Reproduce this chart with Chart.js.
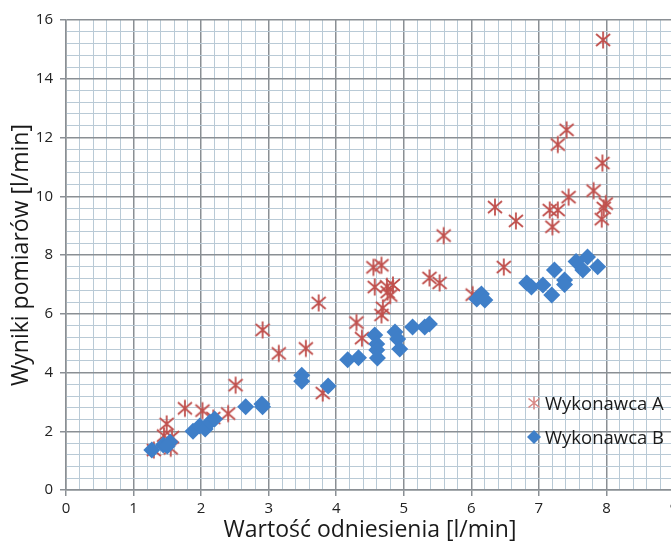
<!DOCTYPE html>
<html>
<head>
<meta charset="utf-8">
<script src="https://cdn.jsdelivr.net/npm/chart.js@4/dist/chart.umd.min.js"></script>
<style>
  html, body { margin: 0; padding: 0; background: #fff; }
  #wrap { position: relative; width: 671px; height: 544px; overflow: hidden; }
  #chart { position: absolute; left: 0; top: 0; }
  #legend { position: absolute; left: 526px; top: 390px; font-family: "Open Sans", sans-serif; font-size: 18.5px; color: #1a1a1a; }
  #legend div { height: 34px; line-height: 26px; white-space: nowrap; }
  #legend svg { vertical-align: middle; margin-right: 3px; position: relative; top: -2px; }
</style>
</head>
<body>
<div id="wrap">
  <canvas id="chart" width="690" height="544"></canvas>
  <div id="legend">
    <div><svg width="16" height="16" viewBox="-8 -8 16 16"><path d="M0,-6.5V6.5M-5.5,-4.5L5.5,4.5M5.5,-4.5L-5.5,4.5" stroke="#d88a87" stroke-width="1.6" fill="none"/></svg>Wykonawca A</div>
    <div><svg width="16" height="16" viewBox="-8 -8 16 16"><path d="M0,-7L7,0L0,7L-7,0Z" fill="#3f7fc8"/></svg>Wykonawca B</div>
  </div>
</div>
<script>
// Wykonawca A (red asterisks)
const aX = [1.30, 1.49, 1.45, 1.57, 1.55, 1.76, 2.02, 2.18, 2.40, 2.51, 2.91, 3.15, 3.55, 3.74, 3.80,
            4.30, 4.38, 4.55, 4.67, 4.57, 4.75, 4.84, 4.76, 4.80, 4.69, 4.67, 5.38, 5.53, 5.59, 6.48,
            6.35, 6.66, 7.16, 7.28, 7.20, 7.44, 7.28, 7.41, 7.95, 7.94, 7.81, 7.99, 7.96, 7.93, 6.02];
const aY = [1.36, 2.25, 1.85, 1.80, 1.42, 2.78, 2.70, 2.45, 2.60, 3.57, 5.45, 4.65, 4.82, 6.37, 3.30,
            5.70, 5.17, 7.58, 7.65, 6.91, 6.93, 6.98, 6.74, 6.62, 6.20, 5.96, 7.22, 7.05, 8.66, 7.59,
            9.63, 9.16, 9.53, 9.53, 8.96, 9.97, 11.76, 12.26, 15.32, 11.13, 10.19, 9.75, 9.60, 9.22, 6.65];

// Wykonawca B (blue diamonds)
const bX = [1.27, 1.44, 1.54, 1.50, 1.88, 1.98, 2.06, 2.13, 2.20, 2.66, 2.90, 2.91, 3.49, 3.49, 3.88,
            4.17, 4.33, 4.57, 4.60, 4.60, 4.61, 4.87, 4.91, 4.94, 5.13, 5.31, 5.38, 6.08, 6.15, 6.20,
            6.82, 6.89, 7.06, 7.19, 7.23, 7.38, 7.38, 7.55, 7.72, 7.65, 7.87];
const bY = [1.36, 1.53, 1.63, 1.50, 2.00, 2.18, 2.08, 2.31, 2.42, 2.83, 2.93, 2.83, 3.91, 3.70, 3.54,
            4.43, 4.50, 5.28, 4.97, 4.77, 4.49, 5.38, 5.14, 4.80, 5.55, 5.55, 5.65, 6.50, 6.67, 6.47,
            7.05, 6.91, 6.98, 6.64, 7.49, 7.15, 7.00, 7.78, 7.93, 7.49, 7.60];

const xTitle = 'Wartość odniesienia [l/min]';
const yTitle = 'Wyniki pomiarów [l/min]';

const redColor = '#c0504d';
const blueColor = '#3f7fc8';

// asterisk marker like the spreadsheet "star" (vertical line + X)
function makeStar() {
    const c = document.createElement('canvas');
    c.width = 18; c.height = 20;
    const g = c.getContext('2d');
    g.strokeStyle = redColor;
    g.lineWidth = 1.8;
    g.translate(9, 10);
    g.beginPath();
    g.moveTo(0, -8.5); g.lineTo(0, 8.5);
    g.moveTo(-7, -6); g.lineTo(7, 6);
    g.moveTo(7, -6); g.lineTo(-7, 6);
    g.stroke();
    return c;
}

const toPoints = (xs, ys) => xs.map((x, i) => ({ x: x, y: ys[i] }));
const isMult = (v, m) => Math.abs(v / m - Math.round(v / m)) < 1e-6;

const majorGrid = '#8a8f94';
const minorGrid = '#b9cad6';
const font = { family: '"Open Sans", sans-serif', size: 15 };
const titleFont = { family: '"Open Sans", sans-serif', size: 23 };

new Chart(document.getElementById('chart'), {
    type: 'scatter',
    data: {
        datasets: [{
            label: 'Wykonawca A',
            data: toPoints(aX, aY),
            pointStyle: makeStar(),
            order: 2
        }, {
            label: 'Wykonawca B',
            data: toPoints(bX, bY),
            pointStyle: 'rectRot',
            pointRadius: 8.5,
            backgroundColor: blueColor,
            borderColor: blueColor,
            borderWidth: 0,
            order: 1
        }]
    },
    options: {
        responsive: false,
        animation: false,
        layout: { padding: { top: 20, right: 16, left: 0, bottom: 0 } },
        plugins: { legend: { display: false }, tooltip: { enabled: false } },
        scales: {
            x: {
                type: 'linear',
                min: 0, max: 9,
                afterFit: s => { s.height = 54; },
                ticks: {
                    stepSize: 0.2, autoSkip: false, maxRotation: 0, padding: 4,
                    color: '#222', font: font,
                    callback: v => isMult(v, 1) ? String(Math.round(v)) : ''
                },
                grid: {
                    tickLength: 6,
                    lineWidth: c => isMult(c.tick.value, 1) ? 1.5 : 1,
                    color: c => isMult(c.tick.value, 1) ? majorGrid : minorGrid,
                    tickColor: c => isMult(c.tick.value, 1) ? majorGrid : 'rgba(0,0,0,0)'
                },
                border: { color: majorGrid, width: 1.5 },
                title: {
                    display: true, text: xTitle, color: '#1a1a1a',
                    font: titleFont,
                    padding: { top: 0, bottom: 0 }
                }
            },
            y: {
                min: 0, max: 16,
                afterFit: s => { s.width = 66; },
                ticks: {
                    stepSize: 0.4, autoSkip: false, padding: 7,
                    color: '#222', font: font,
                    callback: v => isMult(v, 2) ? String(Math.round(v)) : ''
                },
                grid: {
                    tickLength: 6,
                    lineWidth: c => isMult(c.tick.value, 2) ? 1.5 : 1,
                    color: c => isMult(c.tick.value, 2) ? majorGrid : minorGrid,
                    tickColor: c => isMult(c.tick.value, 2) ? majorGrid : 'rgba(0,0,0,0)'
                },
                border: { color: majorGrid, width: 1.5 },
                title: {
                    display: true, text: yTitle, color: '#1a1a1a',
                    font: titleFont,
                    padding: { top: 8, bottom: 0 }
                }
            }
        }
    }
});
</script>
</body>
</html>
